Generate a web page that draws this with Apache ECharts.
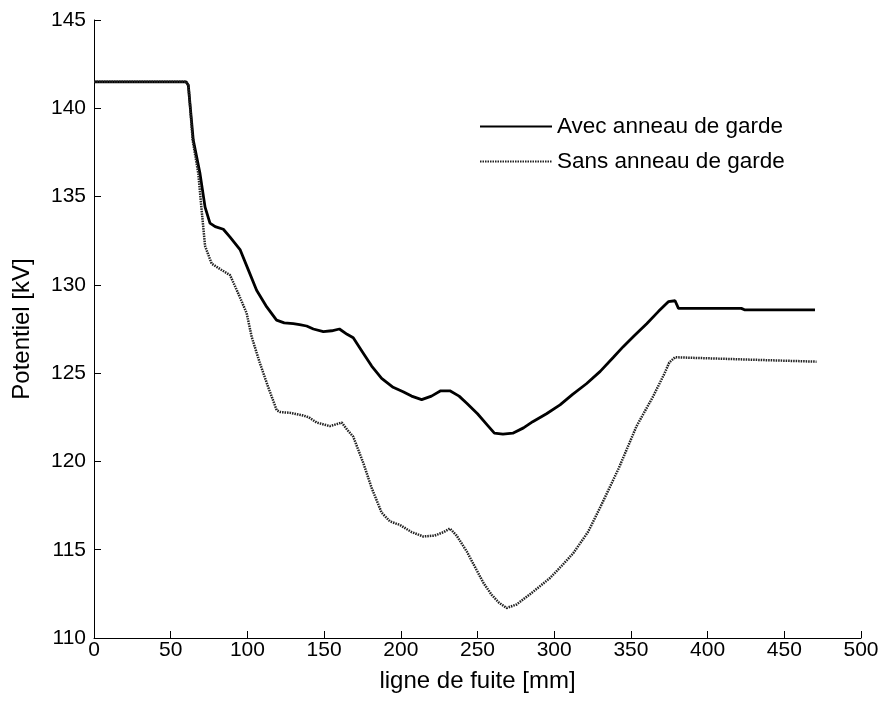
<!DOCTYPE html>
<html>
<head>
<meta charset="utf-8">
<script src="https://cdn.jsdelivr.net/npm/echarts@6/dist/echarts.min.js"></script>
<style>
html, body { margin: 0; padding: 0; background: #fff; }
#main { width: 896px; height: 701px; }
</style>
</head>
<body>
<div id="main"></div>
<script>
// ligne de fuite [mm] / potentiel [kV]
var avecX = [0, 60, 61.5, 62.5, 64.7, 69.1, 72.4, 75.6, 79, 84.3, 88.7, 95.2, 100.6, 106, 112.6, 119, 124, 129.9, 134, 138.6,
  143, 149.5, 155, 160, 165, 169, 175, 181, 187.5, 195, 201.5, 207, 213.6, 220, 226, 232, 238, 243, 250, 256,
  261, 266.6, 273, 280, 286, 295, 303.8, 312, 321, 330, 338.6, 345, 352, 360.3, 368, 374.4, 378.8, 381, 422, 424.4, 470];
var avecY = [141.5, 141.5, 141.3, 140.3, 138.2, 136.3, 134.4, 133.5, 133.3, 133.15, 132.7, 132.0, 130.85, 129.7, 128.75, 128.0, 127.85, 127.8, 127.75, 127.67,
  127.5, 127.35, 127.4, 127.5, 127.2, 127.0, 126.2, 125.4, 124.7, 124.2, 123.95, 123.7, 123.5, 123.7, 124.0, 124.0, 123.7, 123.3, 122.7, 122.1,
  121.6, 121.55, 121.6, 121.9, 122.25, 122.7, 123.2, 123.8, 124.4, 125.1, 125.9, 126.5, 127.1, 127.8, 128.5, 129.05, 129.1, 128.67, 128.67, 128.58, 128.58];

var sansX = [0, 60, 61.5, 62.5, 64.3, 68, 70.2, 72.4, 76.7, 82.1, 88.7, 94.1, 99.5, 102.8, 108.2, 113.6, 119.1, 121.2, 128, 136.4,
  140, 145.2, 153.8, 161.5, 165, 169, 175.6, 181, 187.5, 193, 199.5, 207, 214.7, 222, 228, 232, 236.4, 243, 249.4, 254,
  259.2, 264, 269, 275.5, 286, 297.3, 305, 312.4, 322, 330, 342, 353.7, 364.6, 372, 375, 378.8, 433, 434, 471];
var sansY = [141.5, 141.5, 141.3, 140.3, 138.2, 136.3, 134.2, 132.2, 131.2, 130.9, 130.55, 129.5, 128.4, 127.05, 125.55, 124.2, 122.9, 122.8, 122.75, 122.6,
  122.5, 122.2, 122.0, 122.2, 121.8, 121.4, 119.9, 118.5, 117.1, 116.6, 116.4, 116.0, 115.75, 115.8, 116.0, 116.2, 115.8, 114.9, 113.85, 113.1,
  112.45, 112.0, 111.7, 111.9, 112.6, 113.4, 114.1, 114.8, 116.0, 117.4, 119.6, 122.0, 123.7, 125.0, 125.6, 125.9, 125.75, 125.65, 125.65];

var seriesNames = ['Avec anneau de garde', 'Sans anneau de garde'];

function pairs(xs, ys) {
  var out = [];
  for (var i = 0; i < xs.length; i++) out.push([xs[i], ys[i]]);
  return out;
}

var font = 'Liberation Sans, Arial, sans-serif';
var chart = echarts.init(document.getElementById('main'));
var option = {
  backgroundColor: '#fff',
  animation: false,
  textStyle: { fontFamily: font },
  grid: { left: 94, right: 35, top: 20, bottom: 63 },
  legend: {
    orient: 'vertical',
    left: 474,
    top: 110,
    itemWidth: 72,
    itemHeight: 14,
    itemGap: 12,
    itemStyle: { opacity: 0 },
    textStyle: { color: '#000', fontSize: 22.5, fontFamily: font },
    data: seriesNames
  },
  xAxis: {
    type: 'value',
    min: 0, max: 500, interval: 50,
    name: 'ligne de fuite [mm]',
    nameLocation: 'middle',
    nameGap: 31,
    nameTextStyle: { color: '#000', fontSize: 24, fontFamily: font },
    axisLine: { lineStyle: { color: '#000', width: 1 } },
    axisTick: { inside: true, length: 7, lineStyle: { color: '#000' } },
    axisLabel: { color: '#000', fontSize: 21, margin: 2, fontFamily: font },
    splitLine: { show: false }
  },
  yAxis: {
    type: 'value',
    min: 110, max: 145, interval: 5,
    name: 'Potentiel [kV]',
    nameLocation: 'middle',
    nameGap: 60,
    nameTextStyle: { color: '#000', fontSize: 24, fontFamily: font },
    axisLine: { show: true, lineStyle: { color: '#000', width: 1 } },
    axisTick: { show: true, inside: true, length: 7, lineStyle: { color: '#000' } },
    axisLabel: { color: '#000', fontSize: 21, margin: 8, fontFamily: font },
    splitLine: { show: false }
  },
  series: [
    {
      name: seriesNames[0],
      type: 'line',
      showSymbol: false,
      symbol: 'none',
      data: pairs(avecX, avecY),
      lineStyle: { color: '#000', width: 2.8 },
      itemStyle: { color: '#000' }
    },
    {
      name: seriesNames[1],
      type: 'line',
      showSymbol: false,
      symbol: 'none',
      data: pairs(sansX, sansY),
      lineStyle: { color: '#222', width: 2.5, type: [1.5, 1] },
      itemStyle: { color: '#222' }
    }
  ]
};
chart.setOption(option);
</script>
</body>
</html>
